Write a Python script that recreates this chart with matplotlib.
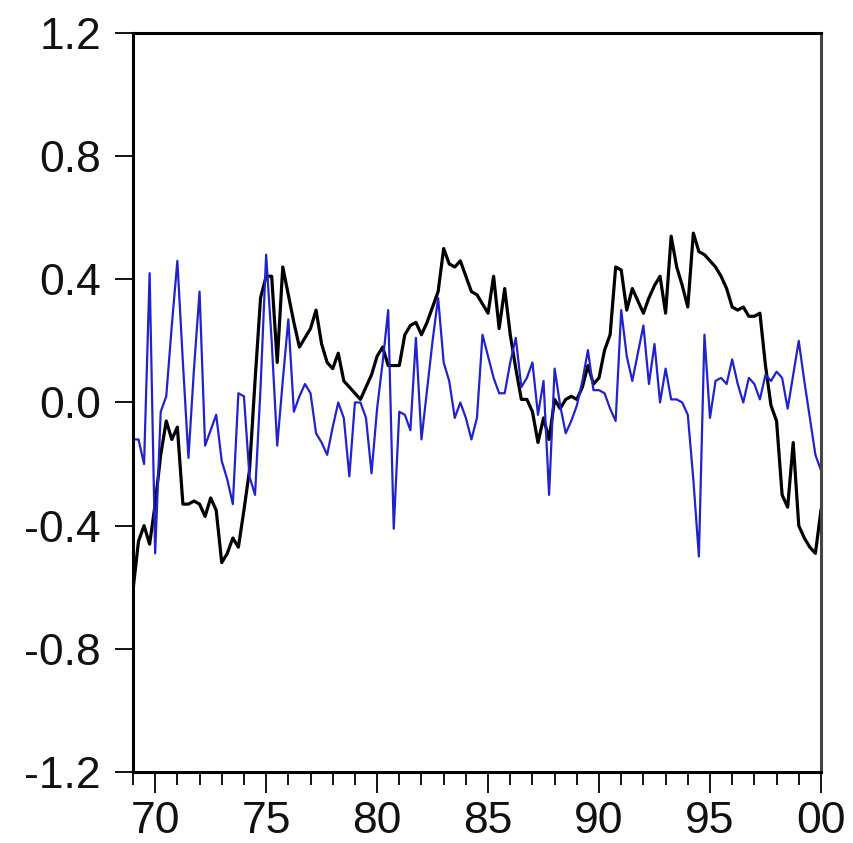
import numpy as np
import matplotlib.pyplot as plt

plt.rcParams['font.family'] = ['Liberation Sans', 'DejaVu Sans']

# quarterly observations, 1969Q1 .. 2000Q1
start_year = 1969
black_series = [
    -0.61, -0.45, -0.40, -0.46, -0.33, -0.17, -0.06, -0.12, -0.08, -0.33,
    -0.33, -0.32, -0.33, -0.37, -0.31, -0.35, -0.52, -0.49, -0.44, -0.47,
    -0.35, -0.22, 0.07, 0.34, 0.41, 0.41, 0.13, 0.44, 0.35, 0.26,
    0.18, 0.21, 0.24, 0.30, 0.19, 0.13, 0.11, 0.16, 0.07, 0.05,
    0.03, 0.01, 0.05, 0.09, 0.15, 0.18, 0.12, 0.12, 0.12, 0.22,
    0.25, 0.26, 0.22, 0.26, 0.31, 0.36, 0.50, 0.45, 0.44, 0.46,
    0.41, 0.36, 0.35, 0.32, 0.29, 0.41, 0.24, 0.37, 0.22, 0.11,
    0.01, 0.01, -0.03, -0.13, -0.05, -0.12, 0.01, -0.02, 0.01, 0.02,
    0.01, 0.05, 0.12, 0.06, 0.08, 0.17, 0.22, 0.44, 0.43, 0.30,
    0.37, 0.33, 0.29, 0.34, 0.38, 0.41, 0.29, 0.54, 0.44, 0.38,
    0.31, 0.55, 0.49, 0.48, 0.46, 0.44, 0.41, 0.37, 0.31, 0.30,
    0.31, 0.28, 0.28, 0.29, 0.12, -0.01, -0.06, -0.30, -0.34, -0.13,
    -0.40, -0.44, -0.47, -0.49, -0.35,
]
blue_series = [
    -0.12, -0.12, -0.20, 0.42, -0.49, -0.03, 0.02, 0.25, 0.46, 0.13,
    -0.18, 0.11, 0.36, -0.14, -0.09, -0.04, -0.19, -0.25, -0.33, 0.03,
    0.02, -0.24, -0.30, 0.05, 0.48, 0.20, -0.14, 0.07, 0.27, -0.03,
    0.02, 0.06, 0.03, -0.10, -0.13, -0.17, -0.08, 0.00, -0.05, -0.24,
    0.00, 0.00, -0.05, -0.23, -0.02, 0.13, 0.30, -0.41, -0.03, -0.04,
    -0.09, 0.21, -0.12, 0.04, 0.20, 0.34, 0.13, 0.07, -0.05, 0.00,
    -0.05, -0.12, -0.05, 0.22, 0.15, 0.08, 0.03, 0.03, 0.13, 0.21,
    0.05, 0.08, 0.13, -0.04, 0.07, -0.30, 0.11, -0.01, -0.10, -0.06,
    -0.01, 0.07, 0.17, 0.04, 0.04, 0.03, -0.02, -0.06, 0.30, 0.15,
    0.07, 0.16, 0.25, 0.06, 0.19, 0.00, 0.11, 0.01, 0.01, 0.00,
    -0.04, -0.25, -0.50, 0.22, -0.05, 0.07, 0.08, 0.06, 0.14, 0.06,
    0.00, 0.08, 0.06, 0.01, 0.09, 0.07, 0.10, 0.08, -0.02, 0.09,
    0.20, 0.07, -0.05, -0.17, -0.22,
]
year_ticks = [1970, 1975, 1980, 1985, 1990, 1995, 2000]
year_labels = ['70', '75', '80', '85', '90', '95', '00']
y_ticks = [-1.2, -0.8, -0.4, 0.0, 0.4, 0.8, 1.2]

t = start_year + np.arange(len(black_series)) / 4.0

fig = plt.figure(figsize=(8.54, 8.43), dpi=100)
ax = fig.add_axes([0.1557, 0.0842, 0.8056, 0.8767])

ax.plot(t, black_series, color='black', linewidth=2.3)
ax.plot(t, blue_series, color='#2222cc', linewidth=1.6)

ax.set_xlim(1969, 2000)
ax.set_ylim(-1.2, 1.2)
ax.set_yticks(y_ticks)
ax.set_yticklabels([f'{v:.1f}' for v in y_ticks])
ax.set_xticks(year_ticks)
ax.set_xticklabels(year_labels)
ax.set_xticks(np.arange(1969, 2001), minor=True)

ax.tick_params(axis='both', which='major', direction='out', labelsize=32,
               width=1.3, color='black', labelcolor='#111111')
ax.tick_params(axis='y', which='major', length=13, pad=10)
ax.tick_params(axis='x', which='major', length=15, pad=6)
ax.tick_params(axis='x', which='minor', direction='out', length=9, width=1.3)

for s in ax.spines.values():
    s.set_linewidth(2.2)
    s.set_color('black')
ax.spines['right'].set_color('#444444')

fig.savefig('out.png', dpi=100)
